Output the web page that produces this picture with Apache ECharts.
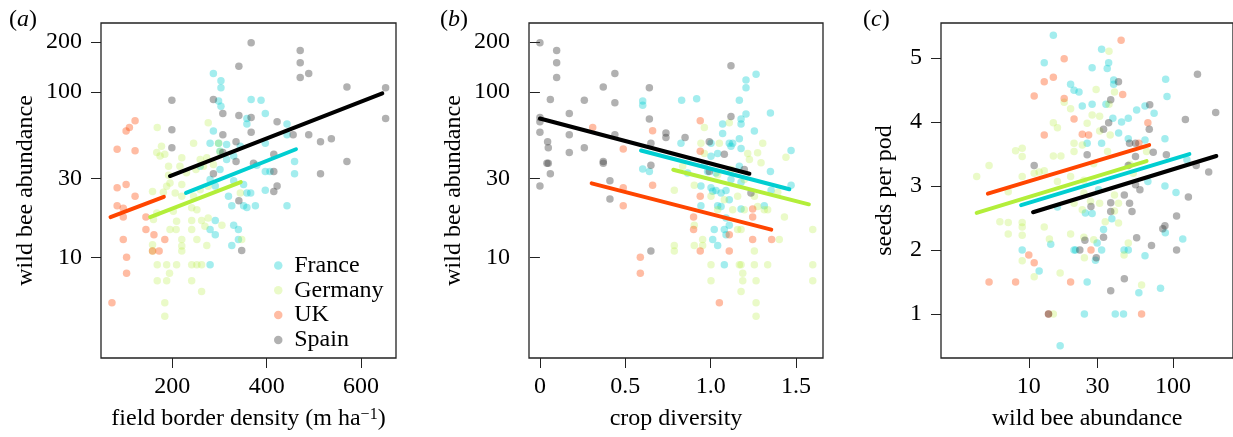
<!DOCTYPE html>
<html>
<head>
<meta charset="utf-8">
<script src="https://cdn.jsdelivr.net/npm/echarts@6/dist/echarts.min.js"></script>
<style>html,body{margin:0;padding:0;background:#fff}#c{width:1233px;height:437px}</style>
</head>
<body>
<div id="c"></div>
<script>
// ---------- data ----------
const countries = ['France', 'Germany', 'UK', 'Spain'];

// panel (a): field border density (m/ha) vs wild bee abundance
const a_France = [[287,129],[303,117],[303,106],[298,88],[303,82],[367,90],[388,89],[397,74],[358,69],[358,64],[443,64],[443,55],[287,58],[280,49],[298,49],[315,48],[344,47],[397,49],[459,38],[459,32],[379,36],[397,33],[407,33],[330,41],[315,39],[301,34],[280,29.5],[291,27],[330,29],[319,23.4],[326,20.5],[351,27.5],[358,24.5],[366,24.5],[351,20.5],[358,20],[376,20.5],[443,20.5],[397,25.4],[291,16.7],[280,14.7],[291,13.7],[330,15.6],[340,14.7],[326,11.8],[340,12.8],[280,9],[301,43.8],[259,35.5]];
const a_Germany = [[168,61],[276,65],[245,49],[177,47],[167,43],[184,42],[174,41],[220,40],[192,35.5],[216,35.5],[259,39],[273,40],[266,35.5],[287,36.4],[301,43.4],[298,49],[192,31.3],[195,28.1],[220,27.5],[158,25],[181,24.7],[206,24.5],[220,23.4],[245,23.4],[259,25.6],[276,26.9],[252,19.4],[241,19.9],[202,19],[167,18.5],[160,16.9],[209,16.5],[241,16.7],[262,16.7],[276,17.3],[269,15.4],[305,15.6],[195,14.7],[208,14.7],[241,14.7],[220,12.8],[220,11.7],[252,12.8],[273,11.8],[347,12.8],[158,11.9],[158,10.9],[220,10.9],[168,9],[188,9],[209,9],[241,9],[252,9],[262,9],[194,8],[168,7.2],[188,7.2],[241,7.2],[262,6.2],[184,5.3],[184,4.4],[344,24.5],[188,26.9],[230,32.4],[250,34]];
const a_UK = [[121,67],[109,61],[102,58],[83,45],[121,44],[83,26.3],[102,27.5],[121,23.4],[83,20.5],[96,19.8],[96,17.5],[144,17.5],[144,14.7],[161,13.7],[184,12.8],[158,10.9],[172,10.9],[96,12.8],[103,10],[103,8],[72,5.3]];
const a_Spain = [[367,198],[341,143],[471,178],[471,150],[471,122],[489,129],[199,89],[287,90],[307,74],[341,72],[367,70],[570,107],[652,106],[652,69],[199,59],[307,55],[367,57],[422,66],[456,55],[489,55],[514,50],[537,52],[199,46],[335,50],[335,38],[372,37],[415,42],[415,33],[514,32],[570,38],[287,32],[307,43],[422,27],[415,25],[341,22],[347,11]];
const a_fit_France = [[229,24.5],[462,45]];
const a_fit_Germany = [[153,17.5],[345,28.5]];
const a_fit_UK = [[69,17.5],[182,23.2]];
const a_fit_Spain = [[195,31],[645,98]];

// panel (b): crop diversity vs wild bee abundance
const b_France = [[0.602,88],[0.602,83],[0.83,89],[0.918,91],[1.266,128],[1.207,118],[1.207,106],[1.168,89],[1.178,68.5],[1.178,64],[1.207,73.5],[1.35,74.6],[1.07,64],[1.07,56],[1.109,49],[1.129,49],[1.168,52],[1.256,58],[0.826,49],[1.002,49],[1.041,42.4],[1.002,40.8],[1.178,45.4],[1.119,47],[1.471,44.2],[0.602,34.2],[0.641,33],[0.865,32.3],[0.963,36.3],[0.982,33],[1.031,32.3],[1.119,29.5],[1.168,35.5],[1.35,33],[0.943,27],[1.002,26.3],[1.012,25.1],[1.031,25.3],[1.061,24.5],[1.09,25.3],[1.109,22.3],[1.178,28.4],[1.471,27.3],[1.354,25.4],[0.943,20.5],[1.041,20.5],[1.061,20.3],[1.178,19.6],[1.314,20.5],[1.09,17.3],[1.109,15.6],[1.021,14.7],[1.08,14.7],[1.09,13.7],[1.012,12.8],[1.041,11.8],[1.08,9]];
const b_Germany = [[1.109,65],[0.963,61],[1.051,49],[0.943,49],[0.963,42.4],[1.305,49],[1.217,42.4],[1.275,42.8],[1.227,39],[1.295,37.3],[1.441,40.3],[0.787,25.4],[0.836,35.5],[0.904,27.3],[1.002,23.4],[1.08,22.3],[1.158,23.4],[1.256,23.4],[1.393,24.7],[1.197,19.4],[1.275,20.3],[1.334,19.4],[1.432,17.5],[1.041,19.4],[1.129,19.4],[0.904,15.6],[0.953,12.8],[1.158,14.7],[1.178,14.7],[1.314,19.4],[0.787,11.8],[0.787,10.9],[0.904,11.8],[0.953,11.8],[1.256,10.9],[1.402,12.8],[1.598,14.7],[1.002,9],[1.168,9],[1.178,9],[1.256,9],[1.334,9],[1.598,9],[1.002,7.2],[1.188,8],[1.188,7.2],[1.266,7.2],[1.598,7.2],[1.178,6.2],[1.266,5.3],[1.266,4.4],[1.041,31.6],[1.119,33.9],[1.197,29.5]];
const b_UK = [[0.309,61],[0.66,58.3],[0.488,45.2],[0.939,67],[0.939,43.8],[0.66,27.3],[0.488,26.3],[0.488,20.5],[0.939,23.4],[0.9,17.5],[0.9,14.7],[1.109,13.7],[1.246,19.6],[1.246,17.5],[1.246,12.8],[1.357,12.8],[0.939,10.9],[1.109,10.9],[0.588,10],[0.588,8],[1.051,5.3]];
const b_Spain = [[0,198],[0.098,178],[0.098,150],[0.098,122],[0.061,90],[0,70],[0,66],[0,57],[0.045,50],[0.049,46],[0.041,37],[0.049,37],[0.061,32],[0,27],[0.172,74],[0.172,55],[0.172,43],[0.26,89],[0.26,46],[0.371,107],[0.439,129],[0.439,86],[0.439,55],[0.371,38],[0.371,37],[0.41,29],[0.41,22.5],[0.641,106],[0.641,68.5],[0.738,56.5],[0.738,53],[0.65,49],[0.65,36],[0.85,53],[0.992,50],[0.992,33],[1.08,42],[1.119,144],[1.119,71],[1.236,24.5],[0.65,10.9],[1.197,34]];
const b_fit_France = [[0.592,44.2],[1.461,25.8]];
const b_fit_Germany = [[0.781,33.8],[1.575,20.9]];
const b_fit_UK = [[0.303,28],[1.355,14.7]];
const b_fit_Spain = [[0,69],[1.227,32]];

// panel (c): wild bee abundance vs seeds per pod
const c_France = [[14.8,5.36],[12.8,4.93],[27.5,4.85],[32,5.14],[35.8,4.93],[35,4.84],[38.8,4.66],[38.8,4.59],[19.5,4.59],[20.6,4.5],[22.3,4.47],[23.5,4.25],[27.5,4.28],[34.3,4.28],[56,4.19],[64,4.25],[74,4.14],[89,4.67],[91,4.4],[49,4.06],[44,4],[38.3,4.06],[42,3.83],[49,3.74],[25.4,3.67],[32,3.67],[64,3.72],[88,3.74],[67,3.07],[88,3],[105,2.9],[125,3.41],[24.7,2.58],[30.5,2.94],[37.7,2.49],[33,2.32],[27.5,2.57],[29.8,2.11],[32,2],[29,1.84],[25.4,1.5],[21.1,2],[11.8,1.67],[9,2],[14.2,2.09],[49,2],[45.8,2],[64,1.91],[117,2.17],[88.5,2.27],[82,1.4],[58,1.33],[24.3,1],[39.8,1],[45.4,1],[16.5,0.5],[15.8,2.67],[20.6,2]];
const c_Germany = [[36,5.11],[29.3,4.51],[39.3,4.47],[36,4.28],[27.5,4.11],[31,4.09],[17.6,4.31],[19.5,4.21],[14.8,3.99],[15.8,3.91],[8.1,3.55],[9,3.59],[9,3.46],[5.3,3.32],[4.35,3.15],[9,3.15],[7.2,2.91],[10.9,3.2],[11.8,3.22],[12.8,3.24],[15.8,3.07],[19.5,3.15],[24.1,3.09],[20.6,3.67],[20.6,3.54],[23.5,3.64],[25.4,3.98],[31,3.86],[36.7,3.8],[35.2,3.54],[28.2,3.35],[24.1,2.89],[20.6,2.73],[23.5,2.63],[26.8,2.76],[31,2.73],[39.3,2.86],[41.9,2.73],[39.3,2.61],[33.9,2.44],[41.9,2.42],[6.3,2.44],[7.2,2.43],[7.2,2.25],[9,2.43],[9,2.36],[9,2.23],[19.5,2.25],[12.8,2.36],[13.9,2.17],[24.1,2.2],[28.2,2.16],[49,2.11],[45.8,1.92],[24.3,1.88],[9,1.83],[10.9,1.58],[16.5,1.64],[60.6,1.45],[14.8,1],[16.7,3.47],[14.8,3.47],[65.6,3.54],[50.4,3.34],[53,3.2]];
const c_UK = [[43.7,5.28],[17.6,4.99],[14.8,4.7],[12.8,4.63],[10.9,4.41],[17.6,4.37],[44.8,4.43],[20.6,4.05],[67,3.99],[12.8,3.8],[23.5,3.81],[26,3.8],[58,3.67],[27,2],[10,1.92],[10.9,1.8],[5.3,1.5],[8.1,1.5],[19.5,1.5],[13.7,1],[60.6,1]];
const c_Spain = [[10.9,3.32],[41.9,4.63],[148,4.75],[198,4.15],[69,4.27],[37,4.35],[35.8,3.99],[33,3.89],[68.5,3.89],[122,4.04],[25.4,3.49],[55,3.67],[50,3.67],[55,3.46],[73,3.53],[90,3.49],[145,3.32],[177,3.22],[49,3.32],[46,2.86],[50,2.73],[52,2.6],[37,2.74],[37,2.6],[59,2.94],[128,2.83],[106,2.53],[88,2.38],[85,2.33],[33,2.2],[22.6,2],[24.5,2.15],[29.4,1.88],[56,2.19],[71,2.07],[106,2],[46,1.55],[37,1.36],[13.7,1],[27,2.68],[55,3.02]];
const c_fit_France = [[8.85,2.70],[130,3.5]];
const c_fit_Germany = [[4.35,2.58],[65.6,3.39]];
const c_fit_UK = [[5.2,2.88],[68.4,3.64]];
const c_fit_Spain = [[10.7,2.59],[200,3.47]];

// tick labels
const ticksBorder = [200, 400, 600];
const ticksCrop = [0, 0.5, 1.0, 1.5];
const ticksAbund = [10, 30, 100, 200];
const ticksAbundX = [10, 30, 100];
const ticksSeeds = [1, 2, 3, 4, 5];

// ---------- styling ----------
const FONT = 'Liberation Serif';
const FS = 24;
const pointColor = {
  France: 'rgba(0,206,209,0.45)',
  Germany: 'rgba(179,238,58,0.35)',
  UK: 'rgba(255,69,0,0.45)',
  Spain: 'rgba(60,60,60,0.5)'
};
const lineColor = { France: '#00CED1', Germany: '#B3EE3A', UK: '#FF4500', Spain: '#000000' };

const panels = [
  { pts: { France: a_France, Germany: a_Germany, UK: a_UK, Spain: a_Spain },
    fits: { France: a_fit_France, Germany: a_fit_Germany, UK: a_fit_UK, Spain: a_fit_Spain } },
  { pts: { France: b_France, Germany: b_Germany, UK: b_UK, Spain: b_Spain },
    fits: { France: b_fit_France, Germany: b_fit_Germany, UK: b_fit_UK, Spain: b_fit_Spain } },
  { pts: { France: c_France, Germany: c_Germany, UK: c_UK, Spain: c_Spain },
    fits: { France: c_fit_France, Germany: c_fit_Germany, UK: c_fit_UK, Spain: c_fit_Spain } }
];

const txt = { fontFamily: FONT, fontSize: FS, color: '#000' };

function axisBase(gi, type, min, max, ticks, fmt, labelMargin) {
  return {
    gridIndex: gi, type: type, min: min, max: max,
    logBase: 10,
    splitLine: { show: false },
    axisLine: { show: false },
    axisTick: { show: true, length: 10, customValues: ticks, lineStyle: { color: '#222', width: 1 } },
    axisLabel: Object.assign({ customValues: ticks, margin: labelMargin, formatter: fmt, showMinLabel: true, showMaxLabel: true }, txt),
    nameLocation: 'middle',
    nameTextStyle: Object.assign({}, txt),
    silent: true
  };
}

const grids = [
  { left: 101, top: 23, width: 295, height: 335 },
  { left: 529, top: 23, width: 294, height: 335 },
  { left: 941, top: 23, width: 295, height: 335 }
].map(g => Object.assign(g, { show: true, borderColor: '#222', borderWidth: 1.3, backgroundColor: 'transparent' }));

const xAxes = [
  Object.assign(axisBase(0, 'value', 48.8, 674, ticksBorder, v => String(v), 17), { name: 'field border density (m ha{s|−1})', nameGap: 49 }),
  Object.assign(axisBase(1, 'value', -0.064, 1.658, ticksCrop, v => (v === 0 ? '0' : v.toFixed(1)), 17), { name: 'crop diversity', nameGap: 49 }),
  Object.assign(axisBase(2, 'log', 2.46, 261, ticksAbundX, v => String(Math.round(v)), 17), { name: 'wild bee abundance', nameGap: 49 })
];
xAxes[0].nameTextStyle.rich = { s: { fontFamily: FONT, fontSize: 16, color: '#000', verticalAlign: 'top' } };

const yAxes = [
  Object.assign(axisBase(0, 'log', 2.46, 261, ticksAbund, v => String(Math.round(v)), 19), { name: 'wild bee abundance', nameGap: 63 }),
  Object.assign(axisBase(1, 'log', 2.46, 261, ticksAbund, v => String(Math.round(v)), 19), { name: 'wild bee abundance', nameGap: 63 }),
  Object.assign(axisBase(2, 'value', 0.31, 5.55, ticksSeeds, v => String(v), 19), { name: 'seeds per pod', nameGap: 44 })
];

const series = [];
panels.forEach((p, gi) => {
  countries.forEach(c => {
    series.push({
      type: 'scatter', name: c, data: p.pts[c], xAxisIndex: gi, yAxisIndex: gi,
      symbol: 'circle', symbolSize: 7.5, itemStyle: { color: pointColor[c] }, z: 2, silent: true
    });
  });
  countries.forEach(c => {
    series.push({
      type: 'line', name: c + ' fit', data: p.fits[c], xAxisIndex: gi, yAxisIndex: gi,
      showSymbol: false, symbol: 'none', z: 3, silent: true,
      lineStyle: { color: lineColor[c], width: 4, cap: 'round' }
    });
  });
});

const titleStyle = Object.assign({ fontWeight: 'normal', rich: { i: { fontFamily: FONT, fontSize: FS, fontStyle: 'italic', color: '#000' } } }, txt);
const titles = [
  { text: '({i|a})', left: 9, top: 8 },
  { text: '({i|b})', left: 440, top: 8 },
  { text: '({i|c})', left: 863, top: 8 }
].map(t => Object.assign(t, { padding: 0, textStyle: titleStyle }));

const chart = echarts.init(document.getElementById('c'), null, { renderer: 'canvas' });
chart.setOption({
  animation: false,
  backgroundColor: '#fff',
  title: titles,
  grid: grids,
  xAxis: xAxes,
  yAxis: yAxes,
  legend: {
    data: countries, orient: 'vertical', left: 274, top: 253.5, padding: 0,
    icon: 'circle', itemWidth: 22, itemHeight: 8.5, itemGap: 0.8,
    textStyle: Object.assign({ lineHeight: 24 }, txt),
    selectedMode: false
  },
  series: series
});
</script>
</body>
</html>
